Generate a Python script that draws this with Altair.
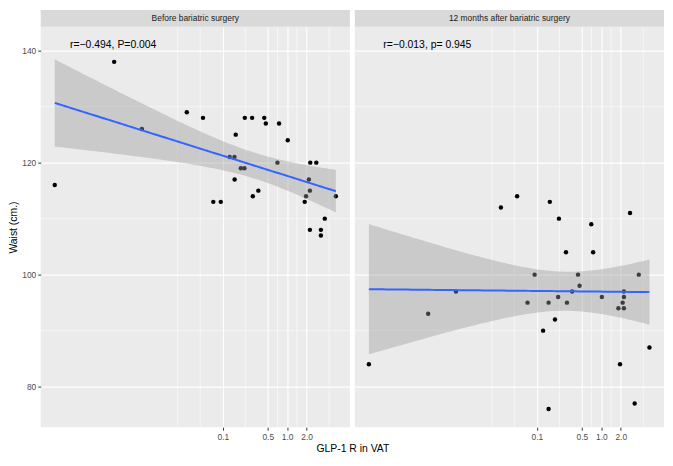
import altair as alt
import numpy as np
import pandas as pd

# GLP-1 R in VAT (x, log scale) and waist in cm (y)
before_x = [0.000248, 0.00207, 0.00558, 0.0277, 0.0494, 0.0714, 0.0933, 0.128, 0.152, 0.159, 0.153,
            0.191, 0.217, 0.220, 0.286, 0.293, 0.357, 0.441, 0.466, 0.706, 0.748, 1.02, 1.87, 1.96,
            2.17, 2.25, 2.28, 2.83, 5.68, 3.83, 2.25, 3.33, 3.33]
before_y = [116, 138, 126, 129, 128, 113, 113, 121, 121, 125, 117,
            119, 119, 128, 128, 114, 115, 128, 127, 120, 127, 124, 113, 114,
            117, 115, 120, 120, 114, 110, 108, 108, 107]

after_x = [0.0277, 0.0494, 0.159, 0.220, 0.698, 2.79, 0.283, 0.746, 0.0923, 0.435, 3.81,
           0.460, 0.353, 0.00556, 2.24, 0.214, 1.02, 2.24, 0.0716, 0.152, 0.293, 2.14,
           1.84, 2.24, 0.00206, 0.191, 0.125, 5.58, 0.000248, 1.95, 3.29, 0.152]
after_y = [112, 114, 113, 110, 109, 111, 104, 104, 100, 100, 100,
           98, 97, 97, 97, 96, 96, 96, 95, 95, 95, 95,
           94, 94, 93, 92, 90, 87, 84, 84, 77, 76]

panel_titles = ["Before bariatric surgery", "12 months after bariatric surgery"]
notes = ["r=\u22120.494, P=0.004", "r=\u22120.013, p= 0.945"]
note_x = 0.002
note_y = 141

x_ticks = [0.1, 0.5, 1, 2]
x_minor = [0.02, 0.0447, 0.224, 0.707, 1.414, 4.47]
y_ticks = [80, 100, 120, 140]
y_minor = [90, 110, 130]

W = 312
H = 404
STRIP = 17
GAP = 5
FONT = "Liberation Sans"

# scale limits with 5% expansion like ggplot
all_x = np.log10(np.array(before_x + after_x))
lo, hi = all_x.min(), all_x.max()
pad = 0.05 * (hi - lo)
x_domain = [10 ** (lo - pad), 10 ** (hi + pad)]
all_y = np.array(before_y + after_y + [note_y])
ylo, yhi = all_y.min(), all_y.max()
ypad = 0.05 * (yhi - ylo)
y_domain = [ylo - ypad, yhi + ypad]

xscale = alt.Scale(type="log", domain=x_domain, nice=False)
yscale = alt.Scale(domain=y_domain, nice=False, zero=False)


def smooth(xs, ys, n=80, t=2.04):
    lx = np.log10(np.array(xs))
    y = np.array(ys, dtype=float)
    b, a = np.polyfit(lx, y, 1)
    resid = y - (a + b * lx)
    s = np.sqrt((resid ** 2).sum() / (len(y) - 2))
    sxx = ((lx - lx.mean()) ** 2).sum()
    g = np.linspace(lx.min(), lx.max(), n)
    fit = a + b * g
    se = s * np.sqrt(1 / len(y) + (g - lx.mean()) ** 2 / sxx)
    return pd.DataFrame({"x": 10 ** g, "fit": fit, "lo": fit - t * se, "hi": fit + t * se})


def panel(xs, ys, title, note, left):
    xaxis = alt.Axis(values=x_ticks, format=".1f", grid=True, domain=False,
                     title="GLP-1 R in VAT" if left else None,
                     titleX=W + GAP / 2, titleAlign="center", titlePadding=3,
                     titleFontSize=10.5, titleFontWeight="normal", titleColor="black")
    if left:
        yaxis = alt.Axis(values=y_ticks, grid=True, domain=False, title="Waist (cm.)",
                         titleFontSize=10.5, titleFontWeight="normal", titleColor="black",
                         titlePadding=3)
    else:
        yaxis = alt.Axis(values=y_ticks, grid=True, domain=False, labels=False, ticks=False,
                         title=None)

    def X(f):
        return alt.X(f, type="quantitative", scale=xscale, axis=xaxis)

    def Y(f):
        return alt.Y(f, type="quantitative", scale=yscale, axis=yaxis)

    pts = pd.DataFrame({"x": xs, "y": ys})
    sm = smooth(xs, ys)

    xminor = alt.Chart(pd.DataFrame({"v": x_minor})).mark_rule(
        color="white", strokeWidth=0.55).encode(x=X("v"))
    yminor = alt.Chart(pd.DataFrame({"v": y_minor})).mark_rule(
        color="white", strokeWidth=0.55).encode(y=Y("v"))
    points = alt.Chart(pts).mark_circle(color="black", size=20, opacity=1).encode(
        x=X("x"), y=Y("y"))
    band = alt.Chart(sm).mark_area(color="#999999", opacity=0.4).encode(
        x=X("x"), y=Y("lo"), y2="hi")
    line = alt.Chart(sm).mark_line(color="#3366FF", strokeWidth=2).encode(
        x=X("x"), y=Y("fit"))
    txt = alt.Chart(pd.DataFrame({"x": [note_x], "y": [note_y], "t": [note]})).mark_text(
        fontSize=10.5, color="black", align="center", baseline="middle", font=FONT).encode(
        x=X("x"), y=Y("y"), text="t:N")
    strip = alt.Chart(pd.DataFrame({"t": [title]})).mark_rect(color="#D9D9D9").encode(
        x=alt.value(0), x2=alt.value(W), y=alt.value(-STRIP), y2=alt.value(0))
    strip_txt = alt.Chart(pd.DataFrame({"t": [title]})).mark_text(
        fontSize=8.5, color="#1A1A1A", align="center", baseline="middle", font=FONT).encode(
        x=alt.value(W / 2), y=alt.value(-STRIP / 2), text="t:N")

    return alt.layer(xminor, yminor, points, band, line, txt, strip, strip_txt).properties(
        width=W, height=H)


chart = alt.hconcat(
    panel(before_x, before_y, panel_titles[0], notes[0], True),
    panel(after_x, after_y, panel_titles[1], notes[1], False),
    spacing=GAP,
    bounds="flush",
).properties(
    padding={"left": 0, "top": 0, "right": 0, "bottom": 0}
).configure(
    font=FONT,
).configure_view(
    fill="#EBEBEB", stroke=None
).configure_axis(
    gridColor="white", gridWidth=1.1, labelFontSize=8.5, labelColor="#4D4D4D",
    tickColor="#333333", tickSize=3, tickWidth=1, labelPadding=2, labelFont=FONT,
    titleFont=FONT
)

chart.save("out.html", embed_options={"renderer": "svg", "actions": False})
